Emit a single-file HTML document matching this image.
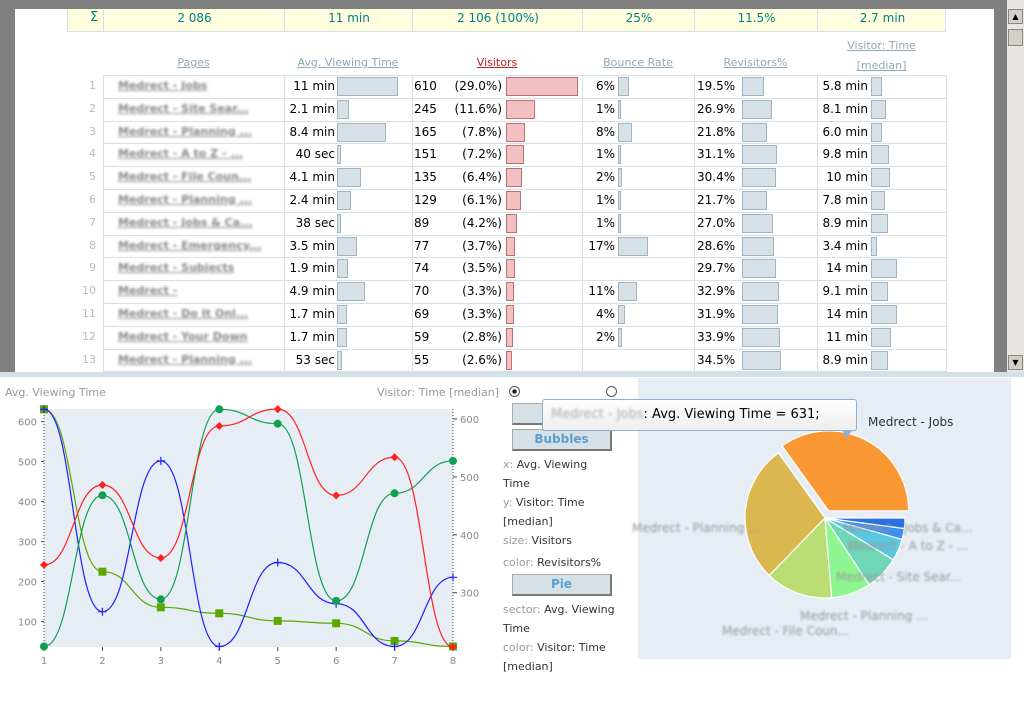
<!DOCTYPE html>
<html><head><meta charset="utf-8"><style>
body{margin:0;width:1024px;height:710px;position:relative;overflow:hidden;background:#fff;font-family:"DejaVu Sans","Liberation Sans",sans-serif;}
.a{position:absolute;white-space:nowrap;}
.t{font-size:12px;color:#000;}
.hd{font-size:11px;color:#8fa8b8;text-decoration:underline;text-align:center;}
.bar{position:absolute;background:#d6e0e7;border:1px solid #9fb4c4;box-sizing:border-box;height:19px;}
.rbar{position:absolute;background:#f2c0c0;border:1px solid #c07070;box-sizing:border-box;height:19px;}
.blur{color:#888;filter:blur(1.3px);font-size:11px;text-decoration:underline;font-weight:bold;}
.btn{position:absolute;background:#d6e0e7;border:1px solid #aaa;border-right:2px solid #777;border-bottom:2px solid #777;box-sizing:border-box;color:#5a9fd0;font-weight:bold;font-size:12px;text-align:center;line-height:18px;}
.lab{font-size:11px;color:#333;line-height:19px;}
.lab span{color:#999;}
</style></head><body>
<div class="a" style="left:0;top:0;width:1007px;height:9px;background:#808080"></div>
<div class="a" style="left:0;top:0;width:15px;height:372px;background:#808080"></div>
<div class="a" style="left:994px;top:0;width:13px;height:372px;background:#808080"></div>
<div class="a" style="left:1007px;top:0;width:17px;height:372px;background:#e8e6e2"></div>
<div class="a" style="left:1008px;top:9px;width:15px;height:15px;background:#d4d0c8;border:1px solid #888;box-sizing:border-box;font-size:8px;text-align:center;line-height:13px">▲</div>
<div class="a" style="left:1008px;top:29px;width:15px;height:17px;background:#d4d0c8;border:1px solid #888;box-sizing:border-box"></div>
<div class="a" style="left:1008px;top:355px;width:15px;height:15px;background:#d4d0c8;border:1px solid #888;box-sizing:border-box;font-size:8px;text-align:center;line-height:13px">▼</div>
<div class="a" style="left:0;top:372px;width:1024px;height:5px;background:#d4e0e8"></div>
<div id="tbl"></div>

<svg class="a" style="left:0;top:377px" width="1024" height="333">
<g id="lc" transform="translate(0,-377)"></g>
</svg>

<div class="a" style="left:509px;top:386px;width:9px;height:9px;border:1px solid #555;border-radius:50%;background:radial-gradient(#222 30%,#fff 40%)"></div>
<div class="a" style="left:606px;top:386px;width:9px;height:9px;border:1px solid #555;border-radius:50%;background:#fff"></div>
<div class="btn" style="left:512px;top:403px;width:100px;height:22px"></div>
<div class="btn" style="left:512px;top:429px;width:100px;height:22px">Bubbles</div>
<div class="a lab" style="left:503px;top:455px;white-space:normal;width:110px"><span>x:</span> Avg. Viewing Time</div>
<div class="a lab" style="left:503px;top:493px;white-space:normal;width:110px"><span>y:</span> Visitor: Time [median]</div>
<div class="a lab" style="left:503px;top:531px"><span>size:</span> Visitors</div>
<div class="a lab" style="left:503px;top:553px"><span>color:</span> Revisitors%</div>
<div class="btn" style="left:512px;top:574px;width:100px;height:22px">Pie</div>
<div class="a lab" style="left:503px;top:600px;white-space:normal;width:125px"><span>sector:</span> Avg. Viewing Time</div>
<div class="a lab" style="left:503px;top:638px;white-space:normal;width:120px"><span>color:</span> Visitor: Time [median]</div>
<div class="a" style="left:638px;top:378px;width:373px;height:281px;background:#e6edf5"></div>
<svg class="a" style="left:638px;top:378px;overflow:visible" width="373" height="281"><g id="pie"></g></svg>
<div class="a" style="left:542px;top:399px;width:315px;height:32px;background:linear-gradient(#fff,#eee);border:1px solid #8fb0d0;border-radius:3px;box-sizing:border-box;font-size:13px;line-height:30px;padding-left:8px"><span style="color:#aaa;filter:blur(1.2px)">Medrect - Jobs</span>: Avg. Viewing Time = 631;</div>
<div class="a" style="left:842px;top:430px;width:0;height:0;border-left:5px solid transparent;border-right:5px solid transparent;border-top:9px solid #8fb0d0"></div>

<script>
const idx=[1,2,3,4,5,6,7,8,9,10,11,12,13];
const avgTxt=["11 min","2.1 min","8.4 min","40 sec","4.1 min","2.4 min","38 sec","3.5 min","1.9 min","4.9 min","1.7 min","1.7 min","53 sec"];
const avgSec=[631,126,504,40,246,144,38,210,114,294,102,102,53];
const visitors=[610,245,165,151,135,129,89,77,74,70,69,59,55];
const visPct=["(29.0%)","(11.6%)","(7.8%)","(7.2%)","(6.4%)","(6.1%)","(4.2%)","(3.7%)","(3.5%)","(3.3%)","(3.3%)","(2.8%)","(2.6%)"];
const bounce=[6,1,8,1,2,1,1,17,null,11,4,2,null];
const revis=[19.5,26.9,21.8,31.1,30.4,21.7,27.0,28.6,29.7,32.9,31.9,33.9,34.5];
const vtTxt=["5.8 min","8.1 min","6.0 min","9.8 min","10 min","7.8 min","8.9 min","3.4 min","14 min","9.1 min","14 min","11 min","8.9 min"];
const vtSec=[348,486,360,588,600,468,534,204,840,546,840,660,534];
const pageNames=["Medrect - Jobs","Medrect - Site Sear...","Medrect - Planning ...","Medrect - A to Z - ...","Medrect - File Coun...","Medrect - Planning ...","Medrect - Jobs & Ca...","Medrect - Emergency...","Medrect - Subjects","Medrect -","Medrect - Do It Onl...","Medrect - Your Down","Medrect - Planning ..."];
let h='';
const cols=[103,284,412,582,694,817,946];
h+=`<div class="a" style="left:67px;top:9px;width:879px;height:23px;background:#ffffe0;border:1px solid #d4e0e8;border-top:none;box-sizing:border-box"></div>`;
const sums=["2 086","11 min","2 106 (100%)","25%","11.5%","2.7 min"];
for(let i=0;i<6;i++){h+=`<div class="a" style="left:${cols[i]}px;top:9px;width:${cols[i+1]-cols[i]}px;height:22px;border-left:1px solid #d4e0e8;text-align:center;font-size:12px;color:#008080;line-height:18px">${sums[i]}</div>`;}
h+=`<div class="a" style="left:90px;top:10px;font-size:13px;color:#008080">Σ</div>`;
const hds=["Pages","Avg. Viewing Time","Visitors","Bounce Rate","Revisitors%"];
for(let i=0;i<5;i++){h+=`<div class="a hd" style="left:${cols[i]}px;top:56px;width:${cols[i+1]-cols[i]}px;${i==2?'color:#c02020':''}">${hds[i]}</div>`;}
h+=`<div class="a hd" style="left:817px;top:36px;width:129px;line-height:20px;white-space:normal">Visitor: Time<br>[median]</div>`;
h+=`<div class="a" style="left:103px;top:75px;width:844px;height:300px;border-left:1px solid #d4e0e8;border-right:1px solid #d4e0e8;border-top:1px solid #d4e0e8;box-sizing:border-box"></div>`;
for(let i=1;i<6;i++)h+=`<div class="a" style="left:${cols[i]}px;top:75px;width:1px;height:297px;background:#d4e0e8"></div>`;
const RH=22.8;
for(let r=0;r<idx.length;r++){
 const y=75+r*RH, ty=y+4;
 h+=`<div class="a" style="left:103px;top:${(y+RH).toFixed(1)}px;width:843px;height:1px;background:#d4e0e8"></div>`;
 h+=`<div class="a" style="left:70px;top:${ty}px;width:26px;text-align:right;font-size:11px;color:#bbb">${idx[r]}</div>`;
 h+=`<div class="a blur" style="left:118px;top:${ty}px">${pageNames[r]}</div>`;
 h+=`<div class="a t" style="left:284px;width:51px;text-align:right;top:${ty}px">${avgTxt[r]}</div>`;
 h+=`<div class="bar" style="left:337px;top:${y+2}px;width:${Math.max(3,avgSec[r]/631*61)}px"></div>`;
 h+=`<div class="a t" style="left:414px;top:${ty}px">${visitors[r]}</div>`;
 h+=`<div class="a t" style="left:440px;width:62px;text-align:right;top:${ty}px">${visPct[r]}</div>`;
 h+=`<div class="rbar" style="left:506px;top:${y+2}px;width:${visitors[r]/610*72}px"></div>`;
 if(bounce[r]!==null){
 h+=`<div class="a t" style="left:582px;width:33px;text-align:right;top:${ty}px">${bounce[r]}%</div>`;
 h+=`<div class="bar" style="left:618px;top:${y+2}px;width:${Math.max(3,bounce[r]/17*30)}px"></div>`;}
 h+=`<div class="a t" style="left:697px;top:${ty}px">${revis[r].toFixed(1)}%</div>`;
 h+=`<div class="bar" style="left:742px;top:${y+2}px;width:${revis[r]/34.5*39}px"></div>`;
 h+=`<div class="a t" style="left:817px;width:51px;text-align:right;top:${ty}px">${vtTxt[r]}</div>`;
 h+=`<div class="bar" style="left:871px;top:${y+2}px;width:${Math.max(6,vtSec[r]/840*26)}px"></div>`;
}
document.getElementById('tbl').innerHTML=h;

// line chart
const xCats=[1,2,3,4,5,6,7,8];
const leftTicks=[100,200,300,400,500,600];
const rightTicks=[300,400,500,600];
const avgSeries=[631,225,136,121,102,96,52,38];
const timeSeries=[348,486,360,588,617,468,534,204];
const blueSeries=[631,125,502,38,248,145,38,211];
const greenSeries=[38,416,156,631,595,152,421,502];
const NS='http://www.w3.org/2000/svg';
const g=document.getElementById('lc');
const X=i=>44+(i-1)*58.43;
const YL=v=>621.7-(v-100)*0.4;
const YR=v=>592.7-(v-300)*0.579;
const clipTop=409,clipBot=647;
function el(t,a,p){const e=document.createElementNS(NS,t);for(const k in a)e.setAttribute(k,a[k]);(p||g).appendChild(e);return e;}
const bg=el('rect',{x:44,y:409,width:409,height:238,fill:'#e6edf5'});


el('line',{x1:44,y1:409,x2:44,y2:647,stroke:'#444','stroke-dasharray':'1,2'});
el('line',{x1:453,y1:409,x2:453,y2:647,stroke:'#444','stroke-dasharray':'1,2'});
function txt(x,y,s,anchor,name,size,col){const t=el('text',{x:x,y:y,'font-size':size||11,fill:col||'#888','text-anchor':anchor||'start','font-family':'DejaVu Sans, sans-serif'});t.textContent=s;return t;}
txt(5,396,'Avg. Viewing Time','start','y-axis-left-title',11,'#999');
txt(499,396,'Visitor: Time [median]','end','y-axis-right-title',11,'#999');
leftTicks.forEach(v=>{txt(37,YL(v)+4,v,'end','y-left-tick',10);el('line',{x1:41,y1:YL(v),x2:44,y2:YL(v),stroke:'#444'});});
rightTicks.forEach(v=>{txt(460,YR(v)+4,v,'start','y-right-tick',10);el('line',{x1:453,y1:YR(v),x2:457,y2:YR(v),stroke:'#444'});});
xCats.forEach(c=>{txt(X(c),664,c,'middle','x-tick',10);el('line',{x1:X(c),y1:647,x2:X(c),y2:651,stroke:'#444'});});
function curve(pts){let d=`M${pts[0][0]},${pts[0][1]}`;for(let i=0;i<pts.length-1;i++){const a=pts[i],b=pts[i+1],dx=(b[0]-a[0])/2;d+=` C${a[0]+dx},${a[1]} ${b[0]-dx},${b[1]} ${b[0]},${b[1]}`;}return d;}
function series(vals,Y,color,mk,name){
 const pts=vals.map((v,i)=>[X(xCats[i]),Math.min(clipBot,Math.max(clipTop,Y(v)))]);
 const p=el('path',{d:curve(pts),fill:'none',stroke:color,'stroke-width':1.2});
 
 
 pts.forEach(([x,y])=>{let m;
  if(mk=='sq')m=el('rect',{x:x-4,y:y-4,width:8,height:8,fill:color});
  else if(mk=='c')m=el('circle',{cx:x,cy:y,r:4,fill:color});
  else if(mk=='d')m=el('path',{d:`M${x},${y-4}L${x+4},${y}L${x},${y+4}L${x-4},${y}Z`,fill:color});
  else m=el('path',{d:`M${x-4},${y}H${x+4}M${x},${y-4}V${y+4}`,stroke:color,'stroke-width':1.2});
  
  });
}
series(avgSeries,YL,'#5aa800','sq','avg-viewing-time');
series(blueSeries,YL,'#2020ff','x','blue-series');
series(greenSeries,YL,'#10a050','c','green-series');
series(timeSeries,YR,'#ff2020','d','visitor-time');

// pie
const pieVals=[631,504,246,144,126,80,40,38];
const pieColors=['#f99832','#dab74f','#bade74','#8ef690','#6fd6b8','#5ac8e0','#3a90f0','#2a70e0'];
const pg=document.getElementById('pie');
const cx=187,cy=140,R=80;
const tot=pieVals.reduce((a,b)=>a+b,0);
let a0=0;
pieVals.forEach((v,i)=>{
 const a1=a0+v/tot*2*Math.PI;
 const mid=(a0+a1)/2, off=i==0?8:0;
 const ox=cx+off*Math.cos(mid), oy=cy-off*Math.sin(mid);
 const p1=[ox+R*Math.cos(a0),oy-R*Math.sin(a0)],p2=[ox+R*Math.cos(a1),oy-R*Math.sin(a1)];
 const s=el('path',{d:`M${ox},${oy}L${p1[0]},${p1[1]}A${R},${R} 0 ${a1-a0>Math.PI?1:0} 0 ${p2[0]},${p2[1]}Z`,fill:pieColors[i],stroke:'#fff','stroke-width':1.2},pg);
 
 
 a0=a1;
});
const pl=[[230,48,'Medrect - Jobs','#333',0],[-6,154,'Medrect - Planning ...','#999',1.2],[205,154,'Medrect - Jobs & Ca...','#999',1.2],[210,172,'Medrect - A to Z - ...','#999',1.2],[198,203,'Medrect - Site Sear...','#999',1.2],[162,242,'Medrect - Planning ...','#999',1.2],[84,257,'Medrect - File Coun...','#999',1.2]];
pl.forEach(l=>{const t=el('text',{x:l[0],y:l[1],'font-size':12,fill:l[3],'font-family':'DejaVu Sans, sans-serif',style:l[4]?'filter:blur(1px)':''},pg);t.textContent=l[2];});
</script>
</body></html>
